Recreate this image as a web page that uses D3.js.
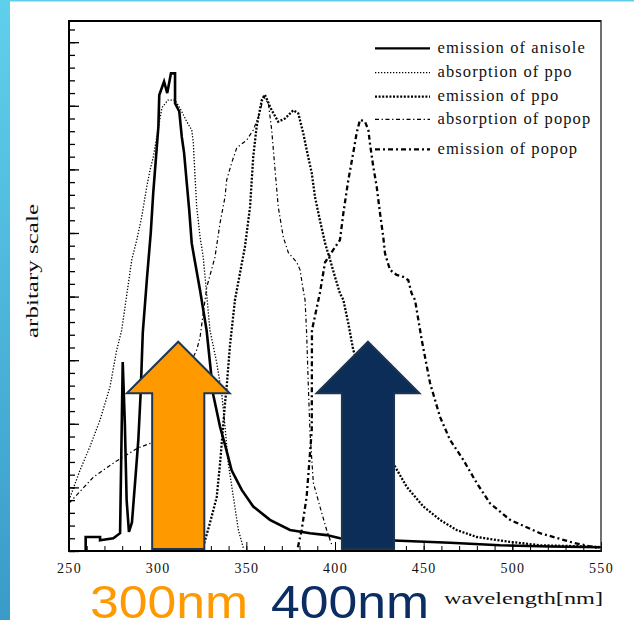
<!DOCTYPE html>
<html><head><meta charset="utf-8">
<script src="https://cdn.jsdelivr.net/npm/d3@7"></script>
<style>
html,body{margin:0;padding:0;background:#fff;}
svg{display:block;}
</style></head>
<body>
<svg id="chart" width="634" height="620"></svg>
<script>
// ---------- data (wavelength nm, arbitrary units) ----------
const anisoleEmission = [[259.4,0],[259.4,0.22],[267.5,0.22],[267.5,0.17],[275,0.20],[278.8,0.28],[280.3,2.97],[281.5,2.0],[282.5,0.8],[283.8,0.30],[285.5,0.45],[287.8,1.27],[289.1,1.75],[290.4,2.48],[291.6,3.43],[294,4.3],[296.1,5.0],[297.5,5.63],[299.1,6.2],[300.4,6.67],[300.9,7.17],[303.6,7.38],[305.4,7.2],[307.5,7.51],[309.8,7.51],[309.8,7.04],[312.2,6.91],[313.6,6.51],[314.9,6.26],[316.4,5.79],[317.8,5.36],[319.2,4.84],[320.5,4.63],[323.9,4.10],[327.6,3.47],[331.4,2.45],[335.2,1.95],[338.0,1.67],[341.7,1.27],[347.4,0.96],[353.9,0.70],[363.3,0.49],[374.6,0.33],[385.9,0.28],[395.3,0.25],[402.8,0.20],[436.7,0.16],[464.8,0.13],[493.0,0.09],[521.2,0.07],[550,0.06]];
const ppoAbsorption = [[250,0.80],[256.2,1.27],[261.8,1.64],[267.5,2.06],[273.1,2.58],[276.9,3.16],[279.7,3.47],[285.4,4.58],[288.2,4.89],[291.0,5.25],[293.8,5.72],[295.7,5.99],[297.5,6.19],[300.2,6.62],[302.4,6.97],[305.8,7.09],[309.8,7.09],[313.2,6.93],[316.4,6.75],[319.2,6.62],[320.1,6.42],[321.1,5.88],[322.0,5.41],[323.9,4.94],[325.7,4.62],[329.5,3.47],[333.3,2.96],[336.1,2.48],[338.0,1.95],[339.8,1.38],[342.7,0.85],[345.5,0.33],[348.3,0.05]];
const ppoEmission = [[325.7,0.07],[329.5,0.44],[333.3,0.85],[335.2,1.38],[338.0,2.33],[338.9,2.58],[340.8,3.24],[343.6,3.95],[349.2,4.78],[352.1,5.41],[353.9,6.20],[355.8,6.67],[358.7,7.09],[360.5,7.17],[364.3,6.93],[368.0,6.75],[371.8,6.80],[376.5,6.93],[379.3,6.88],[382.1,6.57],[384.0,6.31],[386.9,5.94],[388.7,5.57],[391.5,5.20],[394.4,4.84],[397.2,4.58],[400.0,4.31],[402.8,4.05],[404.7,3.95],[407.5,3.58],[410.3,3.16],[422.6,2.14],[433.8,1.33],[440.4,1.01],[449.8,0.70],[459.2,0.49],[468.6,0.33],[479.9,0.22],[496.8,0.15],[515.6,0.09],[543.8,0.07],[550,0.06]];
const popopAbsorption = [[250,0.75],[263.7,1.16],[275.9,1.40],[288.9,1.62],[296.6,1.70],[322.0,3.16],[323.9,3.36],[327.7,4.15],[332.3,4.62],[335.2,5.16],[338.0,5.57],[338.9,5.83],[341.7,6.10],[344.6,6.34],[350.2,6.46],[353.9,6.62],[357.7,6.89],[359.6,7.15],[362.4,7.04],[364.3,6.62],[366.2,5.99],[368.0,5.41],[370.8,4.94],[373.7,4.69],[378.4,4.54],[380.3,4.42],[382.1,4.10],[383.1,3.95],[384.0,3.43],[384.9,2.64],[385.9,1.86],[387.8,1.07],[392.5,0.60],[395.3,0.33],[398.3,0.09]];
const popopEmission = [[379.1,0.06],[381.2,0.33],[384.0,0.85],[386.9,1.90],[387.0,3.47],[391.5,4.06],[394.4,4.54],[398.9,4.73],[402.8,4.89],[404.7,5.31],[407.5,5.83],[410.3,6.26],[412.2,6.57],[414.1,6.78],[416.9,6.75],[418.8,6.62],[419.7,6.41],[421.6,6.04],[423.5,5.73],[425.4,5.31],[427.2,4.94],[428.2,4.68],[431.0,4.42],[434.8,4.34],[438.5,4.31],[441.3,4.26],[443.2,4.05],[445.1,3.95],[448.9,3.32],[453.6,2.64],[459.2,2.11],[464.8,1.75],[472.4,1.43],[479.9,1.07],[487.4,0.75],[498.7,0.49],[515.6,0.28],[534.4,0.13],[547.6,0.05]];

const seriesNames = ["emission of anisole","absorption of ppo","emission of ppo","absorption of popop","emission of popop"];
const xTickLabels = [250,300,350,400,450,500,550];
const arrowLabels = ["300nm","400nm"];
const arrowCenters = [311.6, 418.6];   // nm
const arrowApex = 3.29, arrowHeadBase = 2.48, arrowBottom = 0.03; // arbitrary units
const arrowHeadHalf = 29, arrowShaftHalf = 14.7; // nm

// ---------- layout / styles ----------
const svg = d3.select("#chart");
const W = 634, H = 620;
const L = 69, R = 601, T = 21, B = 551;
const x = d3.scaleLinear().domain([250,550]).range([L,R]);
const y = d3.scaleLinear().domain([0,8.333]).range([B,T]);
const serif = "'Liberation Serif','Times New Roman',serif";

const styles = [
  {w:2.6, dash:null,          color:"#000"},
  {w:1.3, dash:"1.3,1.7",     color:"#000"},
  {w:2.3, dash:"2,1.6",       color:"#000"},
  {w:1.2, dash:"4,2.6,1.3,2.6", color:"#000"},
  {w:2.3, dash:"5,3,2,3",     color:"#000"}
];
const allSeries = [anisoleEmission, ppoAbsorption, ppoEmission, popopAbsorption, popopEmission];

// background decorations
const defs = svg.append("defs");
const grad = defs.append("linearGradient").attr("id","lbar").attr("x1",0).attr("y1",0).attr("x2",0).attr("y2",1);
grad.append("stop").attr("offset","0%").attr("stop-color","#5fd0ec");
grad.append("stop").attr("offset","100%").attr("stop-color","#3a9bc9");
svg.append("rect").attr("x",0).attr("y",0).attr("width",W).attr("height",H).attr("fill","#fff");
svg.append("rect").attr("x",0).attr("y",0).attr("width",W).attr("height",1.5).attr("fill","#5fd0ec");
svg.append("rect").attr("x",0).attr("y",0).attr("width",10).attr("height",H).attr("fill","url(#lbar)");

defs.append("clipPath").attr("id","plotclip").append("rect")
  .attr("x",L).attr("y",T).attr("width",R-L).attr("height",B-T);

// curves
const line = d3.line().x(d=>x(d[0])).y(d=>y(d[1]));
const gCurves = svg.append("g").attr("clip-path","url(#plotclip)");
allSeries.forEach((s,i)=>{
  const st = styles[i];
  gCurves.append("path").datum(s)
    .attr("d", line)
    .attr("fill","none").attr("stroke",st.color).attr("stroke-width",st.w)
    .attr("stroke-dasharray",st.dash).attr("stroke-linejoin","miter");
});

// axes
const xMinor = d3.range(250,551,10);
svg.append("g").attr("transform",`translate(0,${B})`)
  .call(d3.axisBottom(x).tickValues(xMinor).tickSize(-5).tickFormat(""))
  .call(g=>g.select(".domain").remove())
  .call(g=>g.selectAll("line").attr("stroke","#000").attr("stroke-width",1));
const xAx = svg.append("g").attr("transform",`translate(0,${B})`)
  .call(d3.axisBottom(x).tickValues(xTickLabels).tickSize(-9).tickPadding(12).tickFormat(d=>String(d)))
  .call(g=>g.select(".domain").remove());
xAx.selectAll("line").attr("stroke","#000").attr("stroke-width",1);
xAx.selectAll("text").attr("font-family",serif).attr("font-size",14).attr("fill","#111")
  .attr("letter-spacing","1.3px");

const yMinor = d3.range(0,8.34,0.2);
svg.append("g").attr("transform",`translate(${L},0)`)
  .call(d3.axisLeft(y).tickValues(yMinor).tickSize(-6).tickFormat(""))
  .call(g=>g.select(".domain").remove())
  .call(g=>g.selectAll("line").attr("stroke","#000").attr("stroke-width",1.3));
svg.append("g").attr("transform",`translate(${L},0)`)
  .call(d3.axisLeft(y).tickValues(d3.range(0,9,1)).tickSize(-10).tickFormat(""))
  .call(g=>g.select(".domain").remove())
  .call(g=>g.selectAll("line").attr("stroke","#000").attr("stroke-width",1.3));

// frame
svg.append("line").attr("x1",L).attr("x2",L).attr("y1",T-1).attr("y2",B+1).attr("stroke","#000").attr("stroke-width",2);
svg.append("line").attr("x1",L-1).attr("x2",R+1).attr("y1",B).attr("y2",B).attr("stroke","#000").attr("stroke-width",2);
svg.append("line").attr("x1",L-1).attr("x2",R).attr("y1",T).attr("y2",T).attr("stroke","#000").attr("stroke-width",2);
svg.append("line").attr("x1",R).attr("x2",R).attr("y1",T-1).attr("y2",B+1).attr("stroke","#222").attr("stroke-width",1.3);

// legend
const legRows = [48.3,72.7,96.7,119.3,149.3];
const leg = svg.append("g");
seriesNames.forEach((name,i)=>{
  const st = styles[i];
  leg.append("line").attr("x1",375).attr("x2",430).attr("y1",legRows[i]).attr("y2",legRows[i])
    .attr("stroke",st.color).attr("stroke-width",Math.min(st.w,2.2)).attr("stroke-dasharray",st.dash);
  leg.append("text").attr("x",437.5).attr("y",legRows[i]+4.5).text(name)
    .attr("font-family",serif).attr("font-size",16.5).attr("fill","#111")
    .attr("letter-spacing","1.1px");
});

// axis titles
svg.append("text").attr("x",444).attr("y",604).text("wavelength[nm]")
  .attr("font-family",serif).attr("font-size",17).attr("fill","#111")
  .attr("textLength",159).attr("lengthAdjust","spacingAndGlyphs");
svg.append("text").attr("transform","translate(38,271) rotate(-90)").attr("text-anchor","middle")
  .text("arbitary scale").attr("font-family",serif).attr("font-size",17).attr("fill","#111")
  .attr("textLength",134).attr("lengthAdjust","spacingAndGlyphs");

// arrows
const arrowFills = ["#ff9900","#0b2d58"];
arrowCenters.forEach((c,i)=>{
  const pts = [
    [x(c), y(arrowApex)],
    [x(c+arrowHeadHalf), y(arrowHeadBase)],
    [x(c+arrowShaftHalf), y(arrowHeadBase)],
    [x(c+arrowShaftHalf), y(arrowBottom)],
    [x(c-arrowShaftHalf), y(arrowBottom)],
    [x(c-arrowShaftHalf), y(arrowHeadBase)],
    [x(c-arrowHeadHalf), y(arrowHeadBase)]
  ];
  svg.append("path").attr("d", d3.line()(pts)+"Z")
    .attr("fill",arrowFills[i]).attr("stroke","#1c3550").attr("stroke-width",2).attr("stroke-linejoin","miter");
});

// nm labels
const labelX = [90, 271];
const labelColors = ["#ff9900","#0b2d62"];
arrowLabels.forEach((t,i)=>{
  svg.append("text").attr("x",labelX[i]).attr("y",618).text(t)
    .attr("font-family","'Liberation Sans',Arial,sans-serif").attr("font-size",47)
    .attr("fill",labelColors[i])
    .attr("textLength",158).attr("lengthAdjust","spacingAndGlyphs");
});
</script>
</body></html>
